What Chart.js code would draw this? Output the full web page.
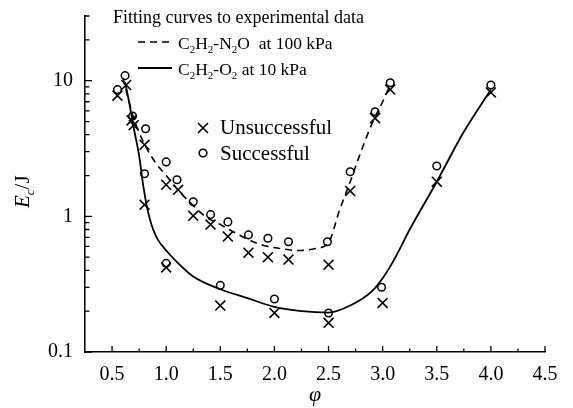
<!DOCTYPE html>
<html>
<head>
<meta charset="utf-8">
<script src="https://cdn.jsdelivr.net/npm/chart.js@4.4.1/dist/chart.umd.min.js"></script>
<style>
  body { margin: 0; background: #fff; }
  #wrap { width: 573px; height: 408px; position: relative; }
</style>
</head>
<body>
<div id="wrap"><canvas id="ignitionChart"></canvas></div>
<script>
// experimental points (phi, E_c in J)
const failPhi = [0.55, 0.63, 0.68, 0.70, 0.80, 0.80, 1.00, 1.00, 1.11, 1.25, 1.41, 1.50, 1.57, 1.76, 1.94, 2.00, 2.13, 2.50, 2.50, 2.70, 2.93, 3.00, 3.07, 3.50, 4.00];
const failE   = [7.75, 9.3, 5.1, 4.7, 3.37, 1.22, 1.71, 0.42, 1.57, 1.01, 0.87, 0.22, 0.71, 0.54, 0.50, 0.194, 0.48, 0.44, 0.164, 1.54, 5.3, 0.23, 8.6, 1.8, 8.2];

const okPhi = [0.55, 0.62, 0.69, 0.81, 0.80, 1.00, 1.00, 1.10, 1.25, 1.41, 1.50, 1.57, 1.76, 1.94, 2.00, 2.13, 2.49, 2.50, 2.70, 2.93, 2.99, 3.07, 3.50, 4.00];
const okE   = [8.6, 10.9, 5.5, 4.42, 2.06, 2.52, 0.45, 1.86, 1.28, 1.03, 0.31, 0.91, 0.73, 0.69, 0.246, 0.65, 0.65, 0.194, 2.13, 5.9, 0.30, 9.67, 2.35, 9.3];

// fitted curves
const n2oPhi = [0.60, 0.70, 0.80, 0.90, 1.00, 1.13, 1.25, 1.36, 1.50, 1.62, 1.75, 1.90, 2.05, 2.22, 2.38, 2.50, 2.60, 2.70, 2.80, 2.90, 3.00, 3.07];
const n2oE   = [10.5, 5.3, 3.4, 2.5, 2.0, 1.5, 1.2, 1.0, 0.87, 0.77, 0.68, 0.61, 0.58, 0.56, 0.58, 0.64, 1.1, 1.8, 3.0, 4.8, 7.0, 9.3];

const o2Phi = [0.62, 0.66, 0.70, 0.75, 0.79, 0.82, 0.85, 0.88, 0.92, 1.00, 1.10, 1.25, 1.50, 1.75, 2.00, 2.25, 2.50, 2.70, 2.90, 3.00, 3.10, 3.25, 3.50, 3.75, 4.00];
const o2E   = [9.8, 6.8, 4.5, 2.8, 1.65, 1.2, 0.95, 0.8, 0.68, 0.56, 0.46, 0.36, 0.29, 0.25, 0.215, 0.2, 0.195, 0.22, 0.28, 0.35, 0.47, 0.8, 1.8, 4.2, 8.6];

const xTicks = [0.5, 1.0, 1.5, 2.0, 2.5, 3.0, 3.5, 4.0, 4.5];
const xMinor = [0.75, 1.25, 1.75, 2.25, 2.75, 3.25, 3.75, 4.25];
const yTicks = [0.1, 1, 10];
const yMinor = [0.2, 0.3, 0.4, 0.5, 0.6, 0.7, 0.8, 0.9, 2, 3, 4, 5, 6, 7, 8, 9, 20, 30];

const SERIF = '"Liberation Serif", "DejaVu Serif", serif';

function pts(xs, ys) {
  return xs.map((x, i) => ({ x: x, y: ys[i] }));
}

// draw text with subscripts: parts = [[text, isSub], ...]
function richText(ctx, parts, x, y, size, style) {
  let cx = x;
  parts.forEach(p => {
    const sub = p[1];
    ctx.font = (style || '') + ' ' + (sub ? Math.round(size * 0.62) : size) + 'px ' + SERIF;
    ctx.fillText(p[0], cx, sub ? y + size * 0.22 : y);
    cx += ctx.measureText(p[0]).width;
  });
  return cx;
}

const decorations = {
  id: 'decorations',
  afterDraw(chart) {
    const ctx = chart.ctx;
    const xs = chart.scales.x, ys = chart.scales.y;
    const area = chart.chartArea;
    ctx.save();
    ctx.strokeStyle = '#000';
    ctx.fillStyle = '#000';
    ctx.lineWidth = 1.3;

    // inward ticks
    ctx.beginPath();
    xTicks.forEach(v => { const p = xs.getPixelForValue(v); ctx.moveTo(p, area.bottom); ctx.lineTo(p, area.bottom - 6); });
    xMinor.forEach(v => { const p = xs.getPixelForValue(v); ctx.moveTo(p, area.bottom); ctx.lineTo(p, area.bottom - 3.5); });
    yTicks.forEach(v => { const p = ys.getPixelForValue(v); ctx.moveTo(area.left, p); ctx.lineTo(area.left + 7, p); });
    yMinor.forEach(v => { const p = ys.getPixelForValue(v); ctx.moveTo(area.left, p); ctx.lineTo(area.left + 4.5, p); });
    ctx.stroke();

    // axis titles
    ctx.textBaseline = 'alphabetic';
    ctx.font = 'italic 22px ' + SERIF;
    ctx.textAlign = 'center';
    ctx.fillText('\u03c6', (area.left + area.right) / 2, 401);
    ctx.textAlign = 'left';

    ctx.save();
    ctx.translate(29, 208);
    ctx.rotate(-Math.PI / 2);
    let cx = richText(ctx, [['E', false]], 0, 0, 21, 'italic');
    cx = richText(ctx, [['c', true]], cx, 0, 21, 'italic');
    richText(ctx, [['/J', false]], cx, 0, 21, '');
    ctx.restore();

    // legend block
    ctx.font = '18px ' + SERIF;
    ctx.fillText('Fitting curves to experimental data', 113, 23);

    ctx.lineWidth = 1.6;
    ctx.setLineDash([7, 5]);
    ctx.beginPath(); ctx.moveTo(138, 42); ctx.lineTo(172, 42); ctx.stroke();
    ctx.setLineDash([]);
    ctx.lineWidth = 1.8;
    ctx.beginPath(); ctx.moveTo(138, 68); ctx.lineTo(172, 68); ctx.stroke();

    richText(ctx, [['C', false], ['2', true], ['H', false], ['2', true], ['-N', false], ['2', true], ['O  at 100 kPa', false]], 178, 49, 17.5);
    richText(ctx, [['C', false], ['2', true], ['H', false], ['2', true], ['-O', false], ['2', true], [' at 10 kPa', false]], 178, 75, 17.5);

    // marker legend
    ctx.lineWidth = 1.6;
    const mx = 203;
    ctx.beginPath();
    ctx.moveTo(mx - 5, 123); ctx.lineTo(mx + 5, 133);
    ctx.moveTo(mx + 5, 123); ctx.lineTo(mx - 5, 133);
    ctx.stroke();
    ctx.beginPath(); ctx.arc(mx, 153, 3.8, 0, Math.PI * 2); ctx.stroke();
    ctx.font = '21px ' + SERIF;
    ctx.fillText('Unsuccessful', 220, 134);
    ctx.fillText('Successful', 220, 160);
    ctx.restore();
  }
};

const ctx = document.getElementById('ignitionChart').getContext('2d');

new Chart(ctx, {
  type: 'scatter',
  data: {
    datasets: [
      {
        label: 'C2H2-O2 at 10 kPa',
        data: pts(o2Phi, o2E),
        showLine: true,
        borderColor: '#000',
        borderWidth: 1.8,
        pointRadius: 0,
        cubicInterpolationMode: 'monotone'
      },
      {
        label: 'C2H2-N2O at 100 kPa',
        data: pts(n2oPhi, n2oE),
        showLine: true,
        borderColor: '#000',
        borderWidth: 1.6,
        borderDash: [7, 5],
        pointRadius: 0,
        cubicInterpolationMode: 'monotone'
      },
      {
        label: 'Unsuccessful',
        data: pts(failPhi, failE),
        pointStyle: 'crossRot',
        pointRadius: 7,
        borderColor: '#000',
        borderWidth: 1.6
      },
      {
        label: 'Successful',
        data: pts(okPhi, okE),
        pointStyle: 'circle',
        pointRadius: 3.8,
        backgroundColor: 'rgba(255,255,255,0)',
        borderColor: '#000',
        borderWidth: 1.5
      }
    ]
  },
  options: {
    responsive: true,
    maintainAspectRatio: false,
    animation: false,
    events: [],
    layout: { padding: { left: 0, right: 28, top: 15, bottom: 0 } },
    scales: {
      x: {
        type: 'linear',
        min: 0.25,
        max: 4.5,
        grid: { display: false },
        border: { display: true, color: '#000', width: 1.5 },
        afterBuildTicks: s => { s.ticks = xTicks.map(v => ({ value: v })); },
        afterFit: s => { s.height = 56; },
        ticks: {
          color: '#000',
          padding: 3,
          maxRotation: 0,
          font: { family: SERIF, size: 20 },
          callback: v => Number(v).toFixed(1)
        }
      },
      y: {
        type: 'logarithmic',
        min: 0.1,
        max: 30,
        grid: { display: false },
        border: { display: true, color: '#000', width: 1.5 },
        afterBuildTicks: s => { s.ticks = yTicks.map(v => ({ value: v })); },
        afterFit: s => { s.width = 85; },
        ticks: {
          color: '#000',
          padding: 4,
          font: { family: SERIF, size: 20 },
          callback: v => String(v)
        }
      }
    },
    plugins: {
      legend: { display: false },
      tooltip: { enabled: false },
      title: { display: false }
    }
  },
  plugins: [decorations]
});
</script>
</body>
</html>
